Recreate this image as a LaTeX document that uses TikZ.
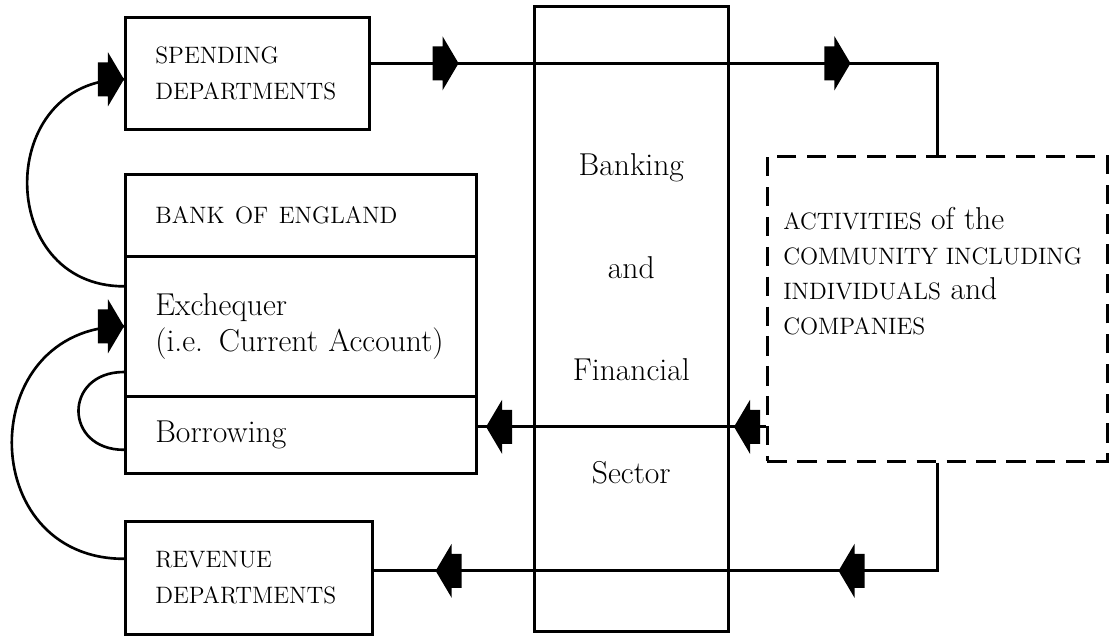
\documentclass[tikz,border=0pt]{standalone}
\usetikzlibrary{decorations.markings}
\newcommand{\flowhead}{\fill (0,0) -- (-16,27) -- (-16,17) -- (-26,17) -- (-26,-17) -- (-16,-17) -- (-16,-27) -- cycle;}
\newcommand{\smcp}[1]{{\fontsize{13.5}{20}\selectfont #1}}
\tikzset{
	box/.style={draw, line width=1.5pt, anchor=north west, inner xsep=0.6cm, align=left, font={\fontsize{18}{20.4}\selectfont}},
	dashbox/.style={draw, line width=1.5pt, dash pattern=on 11pt off 6pt, anchor=north west},
	flow/.style={line width=1.5pt},
	heads/.style 2 args={postaction={decorate, decoration={markings, mark=at position #1 with {\flowhead}, mark=at position #2 with {\flowhead}}}},
	headend/.style={postaction={decorate, decoration={markings, mark=at position 0.9999 with {\flowhead}}}}
}
\begin{document}
\begin{tikzpicture}[x=0.02cm, y=-0.02cm]
	\useasboundingbox (0,0) rectangle (1110,636);

	\node[box, minimum width=4.88cm, minimum height=2.24cm, text width=3.68cm] (spend) at (124,16) {\smcp{SPENDING}\\\smcp{DEPARTMENTS}};
	\node[box, minimum width=7.02cm, minimum height=1.64cm, text width=5.82cm] (boe) at (124,173) {\smcp{BANK OF ENGLAND}};
	\node[box, minimum width=7.02cm, minimum height=2.8cm, text width=5.82cm] (exch) at (124,255) {Exchequer\\(i.e. Current Account)};
	\node[box, minimum width=7.02cm, minimum height=1.54cm, text width=5.82cm] (borrow) at (124,395) {Borrowing};
	\node[box, minimum width=4.94cm, minimum height=2.26cm, text width=3.74cm] (rev) at (124,520) {\smcp{REVENUE}\\\smcp{DEPARTMENTS}};
	\node[box, align=center, minimum width=3.88cm, minimum height=12.5cm, text width=2.68cm, font={\fontsize{18}{58.4}\selectfont}] (sector) at (533,5) {Banking\\and\\Financial\\Sector};
	\node[dashbox, minimum width=6.8cm, minimum height=6.1cm] (comm) at (766,155) {};
	\node[anchor=north west, inner sep=0pt, align=left, font={\fontsize{18}{20}\selectfont}] (commtext) at ([xshift=0.34cm, yshift=-1.04cm]comm.north west)
		{\smcp{ACTIVITIES} of the\\\smcp{COMMUNITY INCLUDING}\\\smcp{INDIVIDUALS} and\\\smcp{COMPANIES}};

	% flows round the right
	\draw[flow, heads={1.76cm}{9.6cm}] ([yshift=0.2cm]spend.east) -- ([yshift=0.2cm]spend.east -| comm.north) -- (comm.north);
	\draw[flow, heads={0.64cm}{5.6cm}] ([yshift=0.16cm]comm.west |- borrow.east) -- ([yshift=0.16cm]borrow.east);
	\draw[flow, heads={4.14cm}{12.2cm}] (comm.south) -- ([yshift=0.14cm]comm.south |- rev.east) -- ([yshift=0.14cm]rev.east);

	% loops on the left
	\draw[flow, headend] ([yshift=0.8cm]exch.west) to[out=180, in=180, looseness=1.6] ([yshift=-0.12cm]spend.west);
	\draw[flow, headend] ([yshift=0.38cm]rev.west) to[out=180, in=180, looseness=1.65] (exch.west);
	\draw[flow, headend] ([yshift=-0.3cm]borrow.west) to[out=180, in=180, looseness=2] ([yshift=0.46cm]borrow.north west);
\end{tikzpicture}
\end{document}
